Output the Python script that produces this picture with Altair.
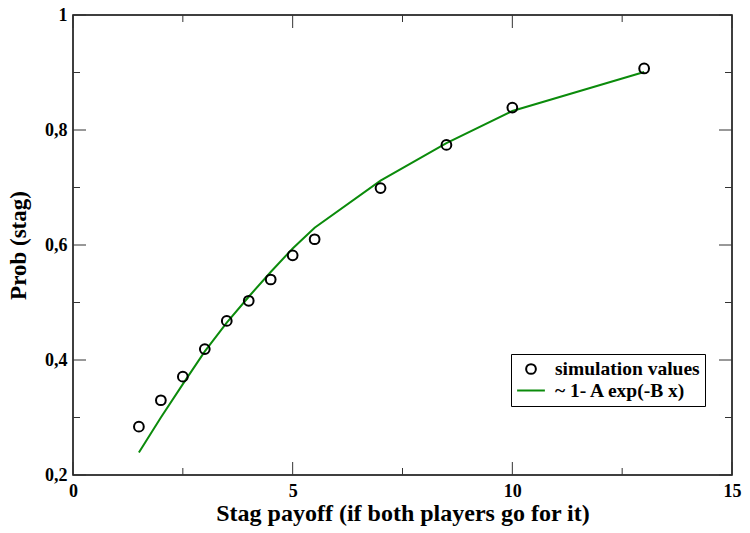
import altair as alt
import pandas as pd

# ---- data ----
x_sim = [1.5, 2.0, 2.5, 3.0, 3.5, 4.0, 4.5, 5.0, 5.5, 7.0, 8.5, 10.0, 13.0]
y_sim = [0.284, 0.330, 0.371, 0.419, 0.468, 0.503, 0.540, 0.582, 0.610, 0.699, 0.774, 0.839, 0.907]

x_fit = [1.5, 2.0, 2.5, 3.0, 3.5, 4.0, 4.5, 5.0, 5.5, 7.0, 8.5, 10.0, 13.0]
y_fit = [0.239, 0.300, 0.358, 0.415, 0.465, 0.510, 0.553, 0.594, 0.630, 0.712, 0.777, 0.833, 0.901]

sim_name = "simulation values"
fit_name = "~ 1- A exp(-B x)"

x_major = [0, 5, 10, 15]
x_minor = [2.5, 7.5, 12.5]
y_major = [0.2, 0.4, 0.6, 0.8, 1.0]
y_minor = [0.3, 0.5, 0.7, 0.9]

x_title = "Stag payoff (if both players go for it)"
y_title = "Prob (stag)"

# ---- layout / style ----
W, H = 659, 460
FONT = "Liberation Serif"
GREEN = "#0b8b0b"
TICK_COLOR = "#333333"
MAJ, MIN = 13, 7

STROKE = "M-2.85,0H2.85"   # legend line symbol (Vega [-1, 1] symbol units)

pts = pd.DataFrame({"x": x_sim, "y": y_sim, "series": sim_name})
fit = pd.DataFrame({"x": x_fit, "y": y_fit, "series": fit_name})

xs = alt.Scale(domain=[0, 15], nice=False, zero=False)
ys = alt.Scale(domain=[0.2, 1.0], nice=False, zero=False)

color_s = alt.Scale(domain=[sim_name, fit_name], range=["black", GREEN])
shape_s = alt.Scale(domain=[sim_name, fit_name], range=["circle", STROKE])

x_axis = alt.Axis(values=x_major, title=x_title, ticks=False, tickSize=0, domain=False,
                  grid=False, labelFlush=False, labelOverlap=False, labelPadding=7,
                  titleFontSize=24, titleBaseline="alphabetic", titleY=45)
y_axis = alt.Axis(values=y_major, title=y_title, ticks=False, tickSize=0, domain=False,
                  grid=False, labelFlush=False, labelOverlap=False, labelPadding=6,
                  titleFontSize=23, titlePadding=14,
                  labelExpr="replace(toString(datum.value), '.', ',')")

legend = alt.Legend(title=None)

line = alt.Chart(fit).mark_line(strokeWidth=2).encode(
    x=alt.X("x:Q", scale=xs, axis=x_axis),
    y=alt.Y("y:Q", scale=ys, axis=y_axis),
    color=alt.Color("series:N", scale=color_s, legend=legend),
)

points = alt.Chart(pts).mark_point(filled=False, strokeWidth=2, opacity=1, size=95).encode(
    x=alt.X("x:Q", scale=xs),
    y=alt.Y("y:Q", scale=ys),
    color=alt.Color("series:N", scale=color_s, legend=legend),
    shape=alt.Shape("series:N", scale=shape_s, legend=legend),
)


def xticks(vals, length, top):
    df = pd.DataFrame({"x": vals})
    if top:
        yv, y2v = 0, length
    else:
        yv, y2v = H, H - length
    return alt.Chart(df).mark_rule(color=TICK_COLOR, strokeWidth=1).encode(
        x=alt.X("x:Q", scale=xs), y=alt.value(yv), y2=alt.value(y2v))


def yticks(vals, length, right):
    df = pd.DataFrame({"y": vals})
    if right:
        xv, x2v = W, W - length
    else:
        xv, x2v = 0, length
    return alt.Chart(df).mark_rule(color=TICK_COLOR, strokeWidth=1).encode(
        y=alt.Y("y:Q", scale=ys), x=alt.value(xv), x2=alt.value(x2v))


ticks = [
    xticks(x_major, MAJ, False), xticks(x_minor, MIN, False),
    xticks(x_major, MAJ, True), xticks(x_minor, MIN, True),
    yticks(y_major, MAJ, False), yticks(y_minor, MIN, False),
    yticks(y_major, MAJ, True), yticks(y_minor, MIN, True),
]

chart = alt.layer(*ticks, line, points).properties(
    width=W, height=H,
    padding={"left": 73, "top": 15, "right": 18, "bottom": 58},
    autosize=alt.AutoSizeParams(type="none"),
    background="white",
).configure_view(
    stroke="black", strokeWidth=1.5
).configure_axis(
    labelFont=FONT, labelFontWeight="bold", labelFontSize=18, labelColor="black",
    titleFont=FONT, titleFontWeight="bold", titleColor="black",
).configure_legend(
    orient="none", legendX=438, legendY=339,
    strokeColor="black", strokeWidth=1, padding=5.25, fillColor="white",
    labelFont=FONT, labelFontWeight="bold", labelFontSize=19.5, labelColor="black",
    labelLimit=300,
    symbolStrokeWidth=2, symbolSize=95, symbolOffset=5, labelOffset=14.25,
    rowPadding=0.5,
)

chart.save("out.html", embed_options={"renderer": "svg", "actions": False})
